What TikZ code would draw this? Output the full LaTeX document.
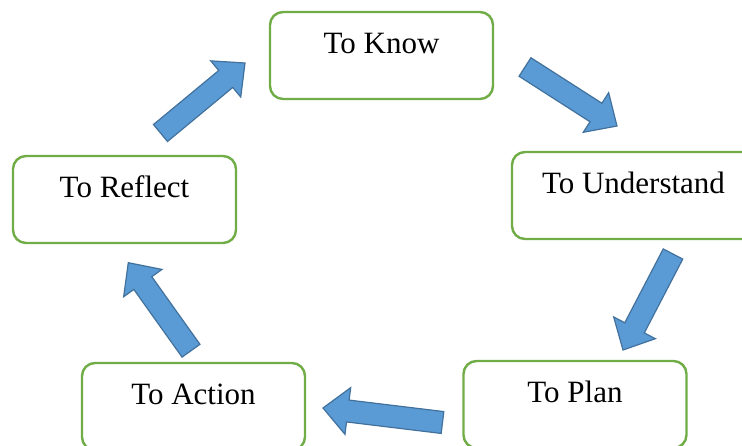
\documentclass[tikz,border=0pt]{standalone}
\usepackage{fontspec}
\setmainfont{Liberation Serif}
\usetikzlibrary{calc}
\definecolor{boxgreen}{HTML}{70AD47}
\definecolor{arrfill}{HTML}{5B9BD5}
\definecolor{arrline}{HTML}{41719C}
\newcommand\blockarrowdraw[2]{%
  \draw[blockarrow] ($(#1)!11pt!90:(#2)$)
    -- ($(#2)!25pt!(#1)!11pt!-90:(#1)$)
    -- ($(#2)!25pt!(#1)!23.5pt!-90:(#1)$)
    -- (#2)
    -- ($(#2)!25pt!(#1)!23.5pt!90:(#1)$)
    -- ($(#2)!25pt!(#1)!11pt!90:(#1)$)
    -- ($(#1)!11pt!-90:(#2)$) -- cycle;}
\begin{document}
\begin{tikzpicture}[x=1pt,y=-1pt,
  stagebox/.style={draw=boxgreen, line width=2.4pt, rounded corners=13pt, fill=white,
    minimum width=223pt, minimum height=87pt, inner xsep=0pt, inner ysep=0pt,
    text height=41pt, text depth=46pt, font=\fontsize{31}{37}\selectfont},
  blockarrow/.style={fill=arrfill, draw=arrline, line width=1.2pt, line join=miter}]
\useasboundingbox (0,0) rectangle (742,445);
\clip (0,0) rectangle (742,445);

\node[stagebox] (know) at (381.5,55.5) {To Know};
\node[stagebox, minimum width=243pt] (understand) at (633.5,195.5) {To Understand};
\node[stagebox] (plan) at (575,404.5) {To Plan};
\node[stagebox] (action) at (193.5,406.5) {To Action};
\node[stagebox] (reflect) at (124.5,199.5) {To Reflect};

\coordinate (a1s) at (525,67);
\coordinate (a1e) at (617,126);
\coordinate (a2s) at (673,254);
\coordinate (a2e) at (623,350);
\coordinate (a3s) at (442.5,422.5);
\coordinate (a3e) at (323,408);
\coordinate (a4s) at (191,350.7);
\coordinate (a4e) at (128.3,262.7);
\coordinate (a5s) at (160.5,133);
\coordinate (a5e) at (245,63);

\blockarrowdraw{a1s}{a1e}
\blockarrowdraw{a2s}{a2e}
\blockarrowdraw{a3s}{a3e}
\blockarrowdraw{a4s}{a4e}
\blockarrowdraw{a5s}{a5e}
\end{tikzpicture}
\end{document}
